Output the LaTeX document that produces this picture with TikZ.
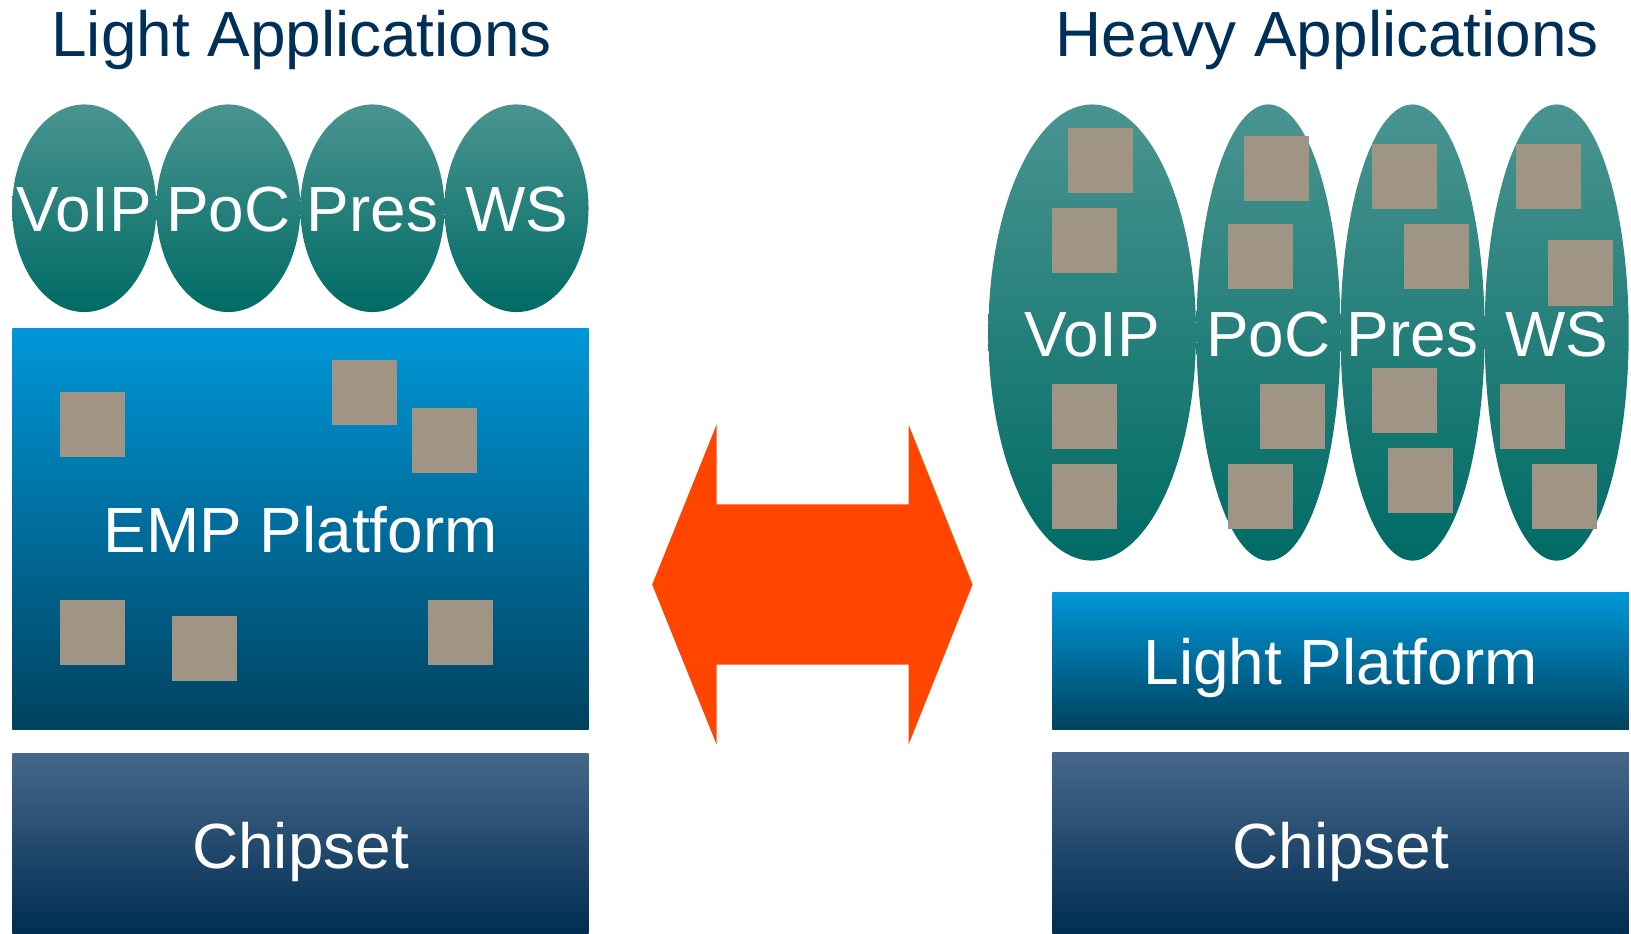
\documentclass[tikz,border=0pt]{standalone}
\usepackage{fontspec}
\setmainfont{Liberation Sans}
\usetikzlibrary{shapes.geometric}
\definecolor{headc}{HTML}{003058}
\definecolor{tealtop}{HTML}{4A9490}
\definecolor{tealbot}{HTML}{006B65}
\definecolor{bluetop}{HTML}{0097D8}
\definecolor{bluebot}{HTML}{00425F}
\definecolor{chiptop}{HTML}{46688A}
\definecolor{chipbot}{HTML}{012D52}
\definecolor{sqc}{HTML}{A09484}
\definecolor{arrowc}{HTML}{FF4500}
\tikzset{
  txt/.style={anchor=base,inner sep=0pt,text=white,font=\fontsize{61.4}{70}\selectfont},
  head/.style={txt,text=headc},
  oval/.style={ellipse,draw=none,inner sep=0pt,shade,top color=tealtop,bottom color=tealbot,shading angle=0},
  smalloval/.style={oval,minimum width=138.6pt,minimum height=199.6pt},
  talloval/.style={oval,minimum width=138.6pt,minimum height=438.6pt},
  blueblock/.style={rectangle,inner sep=0pt,draw=none,top color=bluetop,bottom color=bluebot},
  chipblock/.style={rectangle,inner sep=0pt,draw=none,top color=chiptop,bottom color=chipbot},
  sq/.style={rectangle,inner sep=0pt,fill=sqc,draw=none,minimum width=62.5pt,minimum height=62.5pt,anchor=north west},
}
\begin{document}
\begin{tikzpicture}[x=1pt,y=-1pt]
\useasboundingbox (0,0) rectangle (1568,897);
% left column
\node[head] (hl) at (290,54.5) {Light Applications};
\node[smalloval] (l1) at (81,200.2) {};
\node[smalloval] (l2) at (219.5,200.2) {};
\node[smalloval] (l3) at (358,200.2) {};
\node[smalloval] (l4) at (496.5,200.2) {};
\node[txt] (lt1) at (81,222.7) {VoIP};
\node[txt] (lt2) at (219.5,222.7) {PoC};
\node[txt] (lt3) at (358,222.7) {Pres};
\node[txt] (lt4) at (496.5,222.7) {WS};
\node[blueblock,minimum width=554pt,minimum height=385.4pt] (emp) at (289,508.2) {};
\node[txt] (empt) at (289,531.4) {EMP Platform};
\node[chipblock,minimum width=554pt,minimum height=172.6pt] (cl) at (289,810.7) {};
\node[txt] (clt) at (289,834.6) {Chipset};
\foreach \n/\x/\y in {a/57.4/377,b/319/346,c/396/392,d/57.4/577,e/165/592,f/411/577}
  \node[sq] (e\n) at (\x,\y) {};
% arrow
\fill[arrowc] (627,562) -- (689,408) -- (689,485) -- (873.4,485) -- (873.4,408) -- (935,562) -- (873.4,716) -- (873.4,639) -- (689,639) -- (689,716) -- cycle;
% right column
\node[head] (hr) at (1276,54.5) {Heavy Applications};
\node[talloval,minimum width=199.6pt] (r1) at (1050,319.7) {};
\node[talloval] (r2) at (1219.5,319.7) {};
\node[talloval] (r3) at (1358,319.7) {};
\node[talloval] (r4) at (1496.5,319.7) {};
\foreach \n/\x/\y in {a/1027/123,b/1011/200,c/1011/369,d/1011/446,
  e/1196/131,f/1180/215,g/1211/369,h/1180/446,
  i/1318.6/138.6,j/1350/215,k/1319/354,l/1334/430.6,
  m/1457.4/138.6,n/1488/231,o/1442/369,p/1473/446}
  \node[sq] (h\n) at (\x,\y) {};
\node[txt] (rt1) at (1050,342.5) {VoIP};
\node[txt] (rt2) at (1219.5,342.5) {PoC};
\node[txt] (rt3) at (1358,342.5) {Pres};
\node[txt] (rt4) at (1496.5,342.5) {WS};
\node[blueblock,minimum width=554.4pt,minimum height=131.4pt] (lp) at (1288.8,635.2) {};
\node[txt] (lpt) at (1289,658) {Light Platform};
\node[chipblock,minimum width=554.4pt,minimum height=173.6pt] (cr) at (1288.8,810.2) {};
\node[txt] (crt) at (1289,834.6) {Chipset};
\end{tikzpicture}
\end{document}
